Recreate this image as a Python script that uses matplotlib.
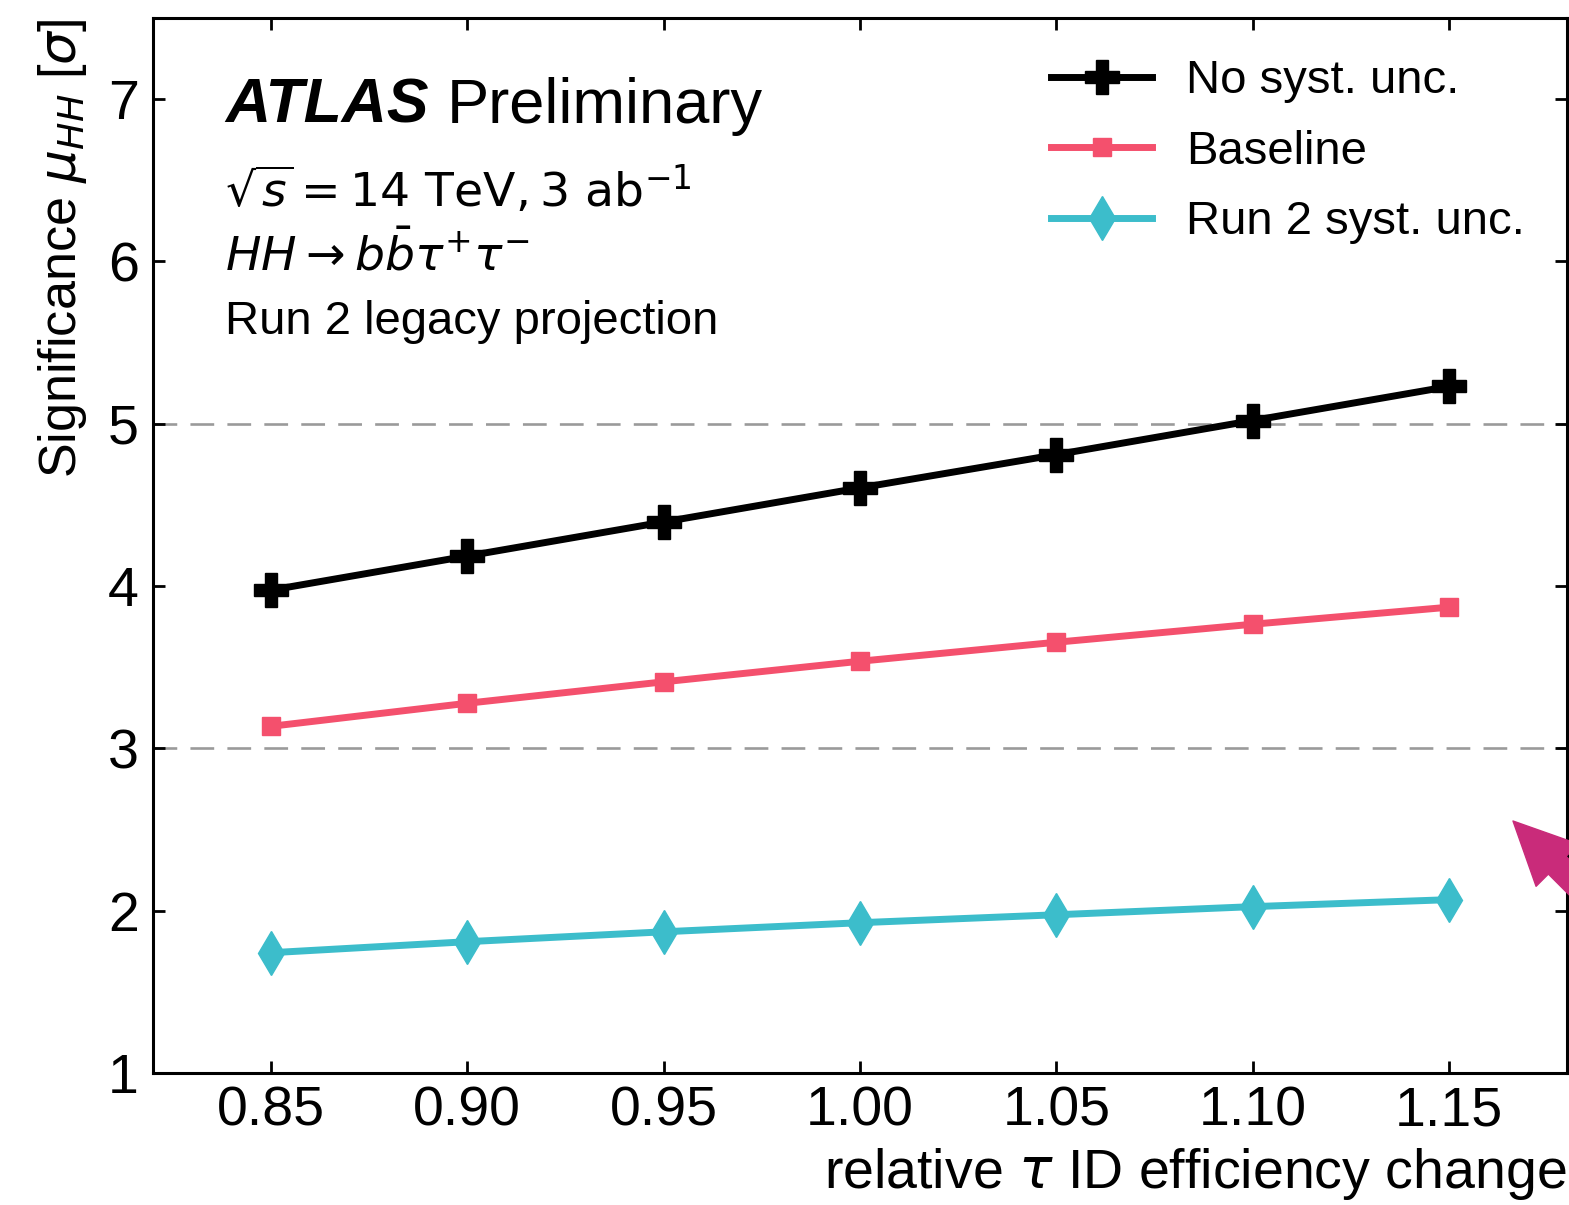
import matplotlib
matplotlib.use("Agg")
import matplotlib.pyplot as plt

# Relative tau ID efficiency scan points
eff_change = [0.85, 0.90, 0.95, 1.00, 1.05, 1.10, 1.15]

# Expected HH signal significance for each systematics scenario
sig_no_syst = [3.975, 4.185, 4.395, 4.605, 4.81, 5.02, 5.23]
sig_baseline = [3.136, 3.278, 3.41, 3.537, 3.654, 3.765, 3.87]
sig_run2_syst = [1.741, 1.809, 1.87, 1.926, 1.975, 2.025, 2.068]

series_labels = ["No syst. unc.", "Baseline", "Run 2 syst. unc."]
x_ticks = [0.85, 0.90, 0.95, 1.00, 1.05, 1.10, 1.15]
x_ticklabels = ["0.85", "0.90", "0.95", "1.00", "1.05", "1.10", "1.15"]
y_ticks = [1, 2, 3, 4, 5, 6, 7]
ref_levels = [3, 5]

plt.rcParams["font.family"] = ["Liberation Sans", "DejaVu Sans"]
plt.rcParams["mathtext.fontset"] = "dejavusans"

fig = plt.figure(figsize=(15.69, 12.05), dpi=100)
ax = fig.add_axes([153 / 1569, 132 / 1205, 1414 / 1569, 1055 / 1205])

for lvl in ref_levels:
    ax.axhline(lvl, color="#9a9a9a", lw=1.9, dashes=(9, 5), zorder=1)

ax.plot(eff_change, sig_no_syst, color="black", lw=5, marker="P",
        ms=24, label=series_labels[0], zorder=3)
ax.plot(eff_change, sig_baseline, color="#F4506D", lw=5, marker="s",
        ms=13, label=series_labels[1], zorder=3)
ax.plot(eff_change, sig_run2_syst, color="#3CBDCB", lw=5, marker="d",
        ms=22, label=series_labels[2], zorder=3)

ax.set_xlim(0.82, 1.18)
ax.set_ylim(1, 7.5)
ax.set_xticks(x_ticks)
ax.set_xticklabels(x_ticklabels)
ax.set_yticks(y_ticks)
ax.tick_params(axis="both", which="major", direction="in", length=8.5,
               width=2.0, labelsize=40, top=True, right=True)
ax.tick_params(axis="x", pad=9)
ax.tick_params(axis="y", pad=10)
for sp in ax.spines.values():
    sp.set_linewidth(2.2)

ax.set_xlabel(r"relative $\tau$ ID efficiency change", fontsize=40,
              loc="right", labelpad=6)
ax.set_ylabel(r"Significance $\mu_{HH}$ [$\sigma$]", fontsize=37.5,
              loc="top", labelpad=14)

# Experiment label block
atlas = ax.text(0.051, 0.9005, "ATLAS", transform=ax.transAxes,
                fontsize=45, fontweight="bold", fontstyle="italic",
                va="baseline", ha="left")
ax.annotate("Preliminary", xy=(1, 0), xycoords=atlas, xytext=(13, 0),
            textcoords="offset points", fontsize=45.5, va="bottom", ha="left")
ax.text(0.051, 0.821, r"$\sqrt{s}=14\ \mathrm{TeV}, 3\ \mathrm{ab}^{-1}$",
        transform=ax.transAxes, fontsize=34, va="baseline", ha="left")
ax.text(0.051, 0.761, r"$HH\rightarrow b\bar{b}\tau^{+}\tau^{-}$",
        transform=ax.transAxes, fontsize=34, va="baseline", ha="left")
ax.text(0.051, 0.700, "Run 2 legacy projection", transform=ax.transAxes,
        fontsize=34, va="baseline", ha="left")

ax.legend(loc="upper left", bbox_to_anchor=(0.635, 0.961), frameon=False,
          fontsize=34, handlelength=2.15, handletextpad=0.72,
          labelspacing=0.56, borderpad=0, borderaxespad=0)

# Highlight arrow near the right edge
ax.annotate("", xy=(1513, 1205 - 821), xycoords="figure pixels",
            xytext=(1650, 1205 - 958), textcoords="figure pixels",
            arrowprops=dict(arrowstyle="simple,head_length=4.5,head_width=4.3,tail_width=1.8",
                            color="#C92B7A", shrinkA=0, shrinkB=0,
                            mutation_scale=10),
            annotation_clip=False, zorder=5)

fig.savefig("out.png", dpi=100)
